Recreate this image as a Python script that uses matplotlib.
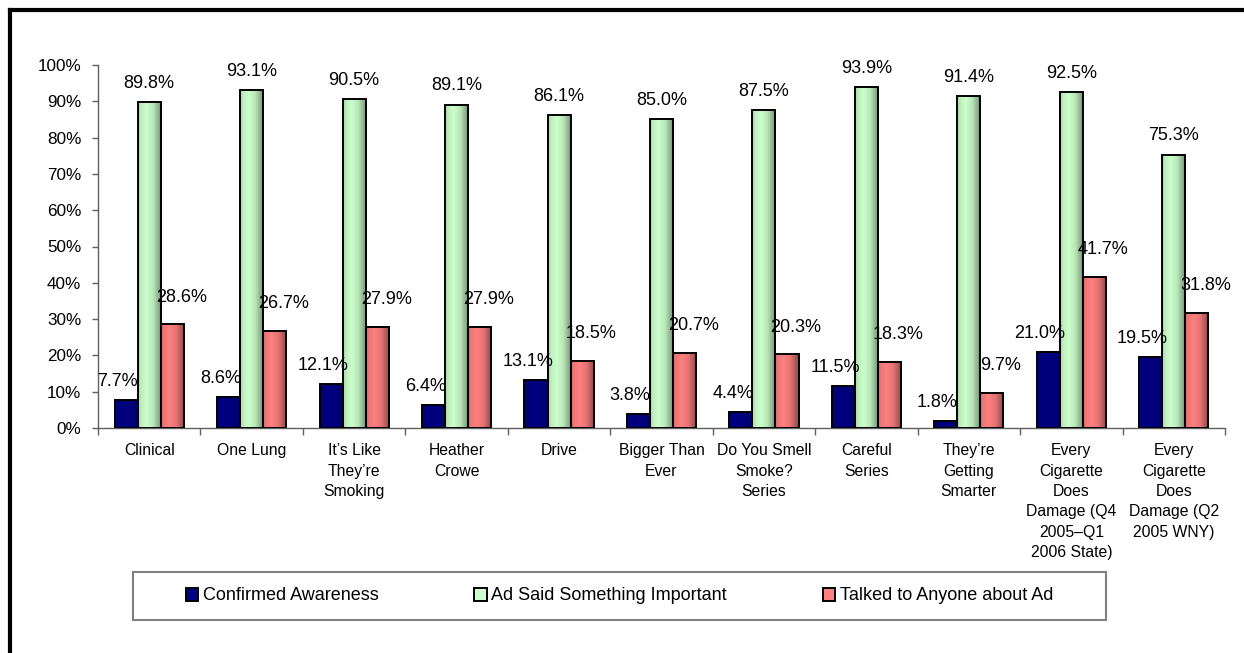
import numpy as np
import matplotlib
matplotlib.use("Agg")
import matplotlib.pyplot as plt
from matplotlib.patches import Rectangle, Patch
from matplotlib.lines import Line2D
from matplotlib.colors import to_rgb

categories = [
    "Clinical",
    "One Lung",
    "It\u2019s Like\nThey\u2019re\nSmoking",
    "Heather\nCrowe",
    "Drive",
    "Bigger Than\nEver",
    "Do You Smell\nSmoke?\nSeries",
    "Careful\nSeries",
    "They\u2019re\nGetting\nSmarter",
    "Every\nCigarette\nDoes\nDamage (Q4\n2005\u2013Q1\n2006 State)",
    "Every\nCigarette\nDoes\nDamage (Q2\n2005 WNY)",
]
series_names = ["Confirmed Awareness", "Ad Said Something Important",
                "Talked to Anyone about Ad"]
awareness = [7.7, 8.6, 12.1, 6.4, 13.1, 3.8, 4.4, 11.5, 1.8, 21.0, 19.5]
important = [89.8, 93.1, 90.5, 89.1, 86.1, 85.0, 87.5, 93.9, 91.4, 92.5, 75.3]
talked = [28.6, 26.7, 27.9, 27.9, 18.5, 20.7, 20.3, 18.3, 9.7, 41.7, 31.8]
yticks = list(range(0, 101, 10))

plt.rcParams['font.family'] = ['Liberation Sans', 'DejaVu Sans']
plt.rcParams['font.size'] = 13

W, H = 1244, 653
fig = plt.figure(figsize=(W / 100, H / 100), dpi=100)
ax = fig.add_axes([98 / W, 1 - 428 / H, (1225 - 98) / W, (428 - 65) / H])

base_colors = ['#000080', '#CCFFCC', '#FF8080']
shade_depth = [0.35, 1.0, 1.0]
bar_w = 0.225
offsets = [-bar_w, 0.0, bar_w]
label_offsets = [(-6, 13.5), (0, 13.5), (6.5, 19.5)]
series = [awareness, important, talked]

x = np.arange(len(categories)) + 0.5


def shaded_strip(color, depth, n=64):
    """Horizontal cylinder-like shading across a bar."""
    t = np.linspace(0, 1, n)
    f = np.interp(t, [0, 0.12, 0.35, 0.65, 1.0], [0.82, 0.93, 1.0, 0.9, 0.55])
    f = 1 - depth * (1 - f)
    rgb = np.array(to_rgb(color))
    strip = np.clip(f[:, None] * rgb[None, :], 0, 1)
    return np.tile(strip[None, :, :], (2, 1, 1))


for vals, off, col, depth, (dx, dy) in zip(series, offsets, base_colors,
                                           shade_depth, label_offsets):
    xs = x + off
    ax.bar(xs, vals, width=bar_w, color=col, edgecolor='none', zorder=2)
    img = shaded_strip(col, depth)
    for xi, v in zip(xs, vals):
        ax.imshow(img, extent=(xi - bar_w / 2, xi + bar_w / 2, 0, v),
                  aspect='auto', interpolation='bilinear', zorder=2.5)
    ax.bar(xs, vals, width=bar_w, fill=False, edgecolor='black',
           linewidth=1.4, zorder=3)
    for xi, v in zip(xs, vals):
        ax.annotate(f"{v:.1f}%", xy=(xi, v), xytext=(dx, dy),
                    textcoords='offset points', ha='center', va='center',
                    fontsize=13, color='black', zorder=5)

ax.set_xlim(0, len(categories))
ax.set_ylim(0, 100)
ax.set_aspect('auto')

ax.set_yticks(yticks)
ax.set_yticklabels([f"{v}%" for v in yticks])
ax.tick_params(axis='y', length=4, width=1, color='#606060', pad=8,
               labelsize=12.3)

ax.set_xticks(x)
ax.set_xticklabels(categories, linespacing=1.45, fontsize=11.3)
ax.tick_params(axis='x', which='major', length=0, pad=11)
ax.set_xticks(np.arange(len(categories) + 1), minor=True)
ax.tick_params(axis='x', which='minor', length=5, width=1, color='#606060',
               direction='out')

for s in ['top', 'right']:
    ax.spines[s].set_visible(False)
for s in ['left', 'bottom']:
    ax.spines[s].set_color('#606060')
    ax.spines[s].set_linewidth(1)

# Legend with its own frame
fig.add_artist(Rectangle((133 / W, 1 - 620 / H), (1106 - 133) / W, 48 / H,
                         transform=fig.transFigure, fill=False,
                         edgecolor='#808080', linewidth=1.5))
handles = [Patch(facecolor=c, edgecolor='black', linewidth=1.4)
           for c in base_colors]
fig.legend(handles, series_names, loc='center',
           bbox_to_anchor=((133 + 1106) / 2 / W, 1 - 596 / H),
           ncol=3, frameon=False, handlelength=0.7, handleheight=0.7,
           handletextpad=0.25, columnspacing=5.3, fontsize=13)

# Heavy frame along the top and left edges
fig.add_artist(Line2D([10 / W, 1.0], [1 - 10 / H, 1 - 10 / H],
                      transform=fig.transFigure, color='black', linewidth=3,
                      solid_capstyle='projecting'))
fig.add_artist(Line2D([10 / W, 10 / W], [0.0, 1 - 10 / H],
                      transform=fig.transFigure, color='black', linewidth=3,
                      solid_capstyle='projecting'))

fig.savefig("out.png", dpi=100)
